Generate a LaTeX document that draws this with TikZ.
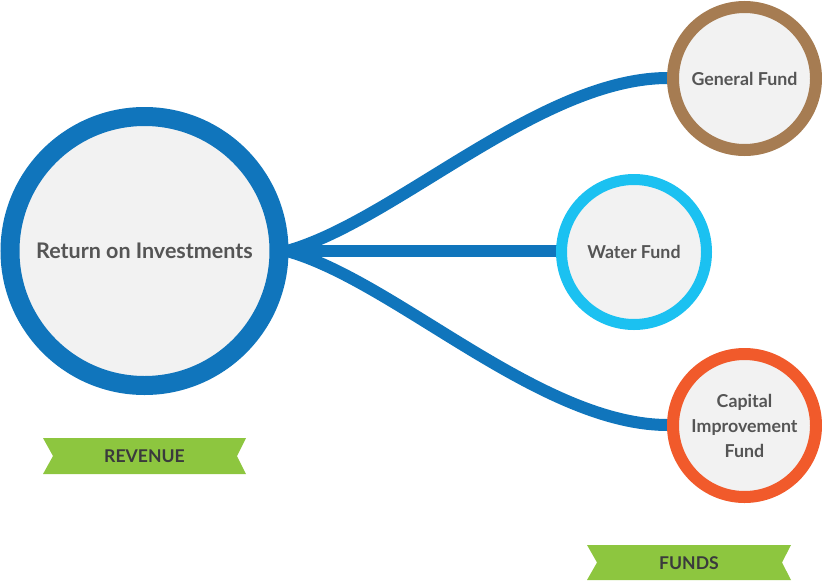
\documentclass[tikz,border=0pt]{standalone}
\usepackage{fontspec}
\setmainfont{Lato}
\definecolor{roiblue}{HTML}{1075BC}
\definecolor{waterblue}{HTML}{1BC1F1}
\definecolor{genbrown}{HTML}{A67C52}
\definecolor{caporange}{HTML}{F15A2B}
\definecolor{circfill}{HTML}{F2F2F2}
\definecolor{txtgray}{HTML}{555555}
\definecolor{bannergreen}{HTML}{8DC63F}
\definecolor{bannertxt}{HTML}{3A3A3C}
\tikzset{
  ring/.style={circle, inner sep=0pt, fill=circfill, align=center, text=txtgray, font=\bfseries\fontsize{17.8}{25}\selectfont},
  link/.style={draw=roiblue, line width=12pt},
  bannertext/.style={text=bannertxt, font=\bfseries\fontsize{17.6}{18}\selectfont, inner sep=0pt}
}
\begin{document}
\begin{tikzpicture}[x=1pt,y=-1pt]
\useasboundingbox (0,0) rectangle (822,581);
% connectors (drawn first, circles drawn on top)
\coordinate (j) at (287,251);
\path[link] (j) .. controls +(108,-30) and +(-128,0) .. (668,78) coordinate (gw);
\path[link] (j) .. controls +(108,30) and +(-128,0) .. (668,425) coordinate (cw);
\path[link] (j) -- (557,251) coordinate (ww);
% circles
\node[ring, draw=roiblue, line width=19pt, minimum size=269pt, font=\bfseries\fontsize{21.5}{24}\selectfont] (roi) at (144.5,251) {Return on Investments};
\node[ring, draw=genbrown, line width=12pt, minimum size=143pt] (gen) at (744.5,78.5) {General Fund};
\node[ring, draw=waterblue, line width=11pt, minimum size=145pt] (water) at (634,252) {Water Fund};
\node[ring, draw=caporange, line width=12pt, minimum size=143pt] (cap) at (744.5,425.5) {Capital\\Improvement\\Fund};
% banners
\fill[bannergreen] (43,438) -- (246,438) -- (237,456) -- (246,474) -- (43,474) -- (53,456) -- cycle;
\node[bannertext] (rev) at (144.5,456) {REVENUE};
\fill[bannergreen] (587,545) -- (791,545) -- (782,562.5) -- (791,580) -- (587,580) -- (597,562.5) -- cycle;
\node[bannertext] (funds) at (689,563) {FUNDS};
\end{tikzpicture}
\end{document}
